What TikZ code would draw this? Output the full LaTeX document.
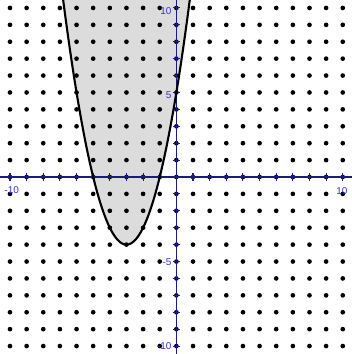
\documentclass[tikz,border=0pt]{standalone}
\usepackage{fontspec}
\setmainfont{Liberation Sans}
\definecolor{axisblue}{HTML}{1A1A80}
\definecolor{labelblue}{HTML}{3333CC}
\definecolor{regiongray}{HTML}{DCDCDC}

\begin{document}
\begin{tikzpicture}[x=0.5cm, y=0.508cm,
    griddot/.style={fill=black},
    axis/.style={draw=axisblue, line width=0.9pt},
    ticklbl/.style={text=labelblue, font=\fontsize{8.5}{9}\selectfont, inner sep=0.5pt}]
    \useasboundingbox (-10.6,-10.47) rectangle (10.55,10.47);
    % shaded region y > x^2+6x+5
    \begin{scope}
        \clip (-10.6,-10.47) rectangle (10.55,10.47);
        \fill[regiongray] plot[domain=-6.9:0.9, samples=120] (\x, {(\x+3)^2-4}) -- cycle;
    \end{scope}
    % dots
    \foreach \i in {-10,...,10}
        \foreach \j in {-10,...,10}
            \fill[griddot] (\i,\j) circle[radius=2pt];
    % axes
    \draw[axis] (-10.6,0) -- (10.55,0);
    \draw[axis] (0,-10.47) -- (0,10.47);
    \foreach \i in {-10,...,10} {
        \draw[axis] (\i,-0.22) -- (\i,0.22);
        \draw[axis] (-0.22,\i) -- (0.22,\i);
    }
    % boundary curve
    \begin{scope}
        \clip (-10.6,-10.47) rectangle (10.55,10.47);
        \draw[line width=1.8pt] plot[domain=-6.9:0.9, samples=120] (\x, {(\x+3)^2-4});
    \end{scope}
    % labels
    \node[ticklbl] (xmin) at (-9.9,-0.78) {-10};
    \node[ticklbl] (xmax) at (9.95,-0.82) {10};
    \node[ticklbl, anchor=east] (ymax) at (-0.25,9.8) {10};
    \node[ticklbl, anchor=east] (yfive) at (-0.25,4.85) {5};
    \node[ticklbl, anchor=east] (ymfive) at (-0.25,-5.05) {-5};
    \node[ticklbl, anchor=east] (ymin) at (-0.25,-10) {-10};
\end{tikzpicture}
\end{document}
